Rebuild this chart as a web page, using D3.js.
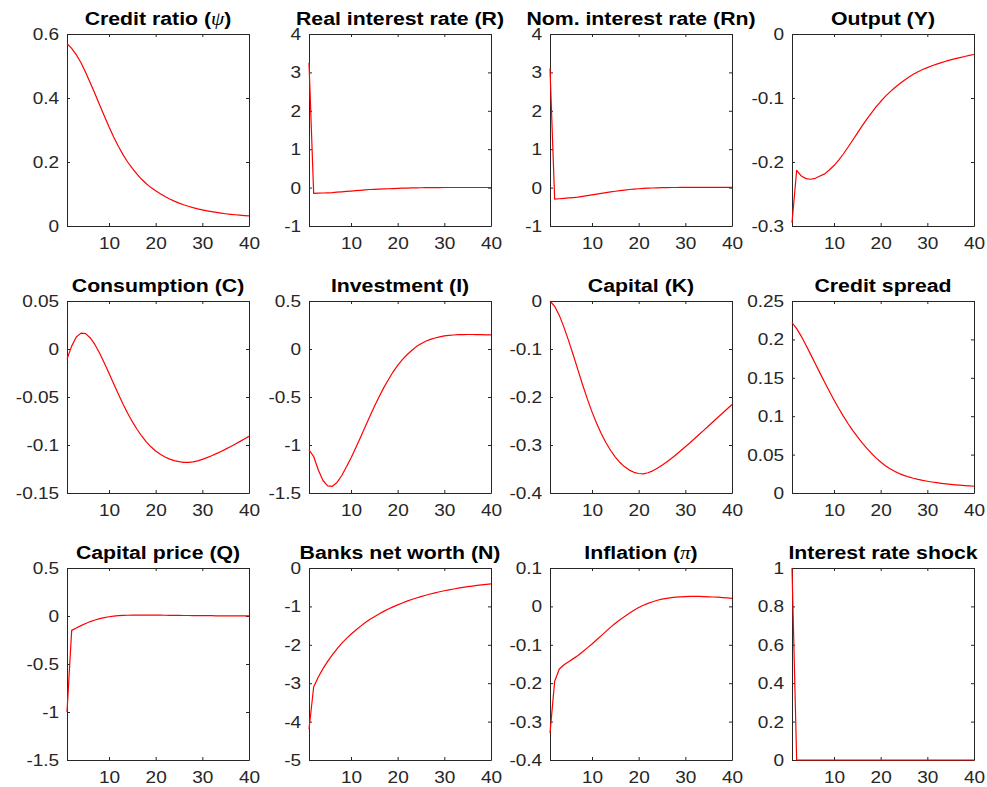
<!DOCTYPE html>
<html>
<head>
<meta charset="utf-8">
<script src="https://cdn.jsdelivr.net/npm/d3@7"></script>
<style>
  html, body { margin: 0; padding: 0; background: #ffffff; }
  svg { display: block; }
</style>
</head>
<body>
<svg id="chart" width="987" height="787"></svg>
<script>
// ---------------- DATA ----------------
const periods = d3.range(1, 41);
const xTicks = [10, 20, 30, 40];

const creditRatio = [0.57,0.555,0.535,0.51,0.48,0.447,0.413,0.378,0.344,0.31,0.278,0.249,0.223,0.2,0.18,0.162,0.146,0.132,0.12,0.11,0.1005,0.092,0.0844,0.0776,0.0716,0.0663,0.0616,0.0574,0.0537,0.0504,0.0474,0.0447,0.0423,0.0402,0.0383,0.0366,0.0351,0.0337,0.0325,0.0314];
const realRate = [3.25,-0.15,-0.145,-0.14,-0.135,-0.13,-0.12,-0.11,-0.1,-0.09,-0.08,-0.07,-0.06,-0.05,-0.045,-0.04,-0.035,-0.03,-0.025,-0.02,-0.016,-0.012,-0.009,-0.006,-0.004,-0.002,0,0.001,0.001,0.002,0.002,0.002,0.002,0.002,0.002,0.002,0.002,0.002,0.002,0.002];
const nomRate = [3.1,-0.3,-0.29,-0.28,-0.27,-0.26,-0.25,-0.23,-0.21,-0.19,-0.17,-0.15,-0.13,-0.11,-0.095,-0.08,-0.065,-0.05,-0.04,-0.03,-0.022,-0.015,-0.01,-0.005,-0.002,0,0.002,0.003,0.004,0.005,0.005,0.005,0.005,0.005,0.005,0.005,0.004,0.004,0.004,0.004];
const output = [-0.295,-0.213,-0.222,-0.226,-0.227,-0.2255,-0.222,-0.2185,-0.2125,-0.2055,-0.197,-0.1875,-0.177,-0.166,-0.155,-0.144,-0.1335,-0.1235,-0.114,-0.1055,-0.0975,-0.0905,-0.084,-0.078,-0.0725,-0.0675,-0.063,-0.059,-0.0555,-0.0525,-0.0497,-0.0471,-0.0447,-0.0425,-0.0405,-0.0386,-0.0368,-0.0351,-0.0335,-0.032];
const consumption = [-0.0105,0.003,0.0125,0.0165,0.016,0.0115,0.0045,-0.0045,-0.0145,-0.0252,-0.0362,-0.047,-0.0573,-0.0669,-0.0757,-0.0836,-0.0906,-0.0967,-0.1019,-0.1062,-0.1097,-0.1125,-0.1147,-0.1163,-0.1174,-0.118,-0.1181,-0.1176,-0.1165,-0.115,-0.1132,-0.1112,-0.109,-0.1067,-0.1043,-0.1018,-0.0992,-0.0965,-0.0938,-0.091];
const investment = [-1.05,-1.12,-1.26,-1.37,-1.425,-1.43,-1.39,-1.32,-1.23,-1.135,-1.03,-0.925,-0.815,-0.705,-0.6,-0.5,-0.405,-0.32,-0.24,-0.17,-0.11,-0.06,-0.015,0.025,0.055,0.08,0.1,0.115,0.127,0.136,0.142,0.146,0.149,0.15,0.151,0.151,0.15,0.149,0.148,0.147];
const capital = [0,-0.011,-0.03,-0.055,-0.083,-0.113,-0.144,-0.175,-0.204,-0.231,-0.255,-0.2765,-0.2953,-0.3115,-0.3252,-0.3365,-0.3455,-0.3523,-0.3569,-0.3594,-0.36,-0.3578,-0.3538,-0.3485,-0.3423,-0.3354,-0.328,-0.3202,-0.3121,-0.3038,-0.2952,-0.2865,-0.2777,-0.2689,-0.26,-0.2511,-0.2422,-0.2333,-0.2244,-0.2155];
const creditSpread = [0.222,0.214,0.204,0.1925,0.1805,0.1683,0.1561,0.1441,0.1324,0.1211,0.1103,0.1001,0.0905,0.0816,0.0734,0.0657,0.0585,0.0518,0.0457,0.0403,0.0356,0.0316,0.0282,0.0253,0.0229,0.0209,0.0192,0.0177,0.0164,0.0153,0.0143,0.0134,0.0126,0.0119,0.0113,0.0107,0.0102,0.0097,0.0092,0.0088];
const capitalPrice = [-1.0,-0.15,-0.125,-0.1,-0.078,-0.058,-0.042,-0.028,-0.017,-0.008,-0.002,0.003,0.006,0.008,0.009,0.01,0.01,0.01,0.01,0.009,0.009,0.008,0.007,0.007,0.006,0.005,0.005,0.004,0.004,0.003,0.003,0.003,0.002,0.002,0.002,0.002,0.001,0.001,0.001,0.001];
const netWorth = [-4.2,-3.1,-2.84,-2.62,-2.43,-2.26,-2.105,-1.965,-1.84,-1.725,-1.62,-1.52,-1.428,-1.344,-1.267,-1.196,-1.13,-1.069,-1.012,-0.959,-0.91,-0.864,-0.821,-0.781,-0.744,-0.709,-0.677,-0.647,-0.619,-0.593,-0.569,-0.546,-0.525,-0.505,-0.487,-0.47,-0.454,-0.439,-0.425,-0.412];
const inflation = [-0.33,-0.195,-0.163,-0.152,-0.144,-0.136,-0.128,-0.118,-0.108,-0.098,-0.087,-0.076,-0.065,-0.054,-0.044,-0.035,-0.026,-0.018,-0.01,-0.003,0.003,0.008,0.012,0.016,0.019,0.021,0.023,0.024,0.025,0.0255,0.026,0.026,0.026,0.0255,0.025,0.0245,0.024,0.023,0.022,0.021];
const shock = [1,0,0,0,0,0,0,0,0,0,0,0,0,0,0,0,0,0,0,0,0,0,0,0,0,0,0,0,0,0,0,0,0,0,0,0,0,0,0,0];

const titles = [
  ["Credit ratio (", "ψ", ")"],
  ["Real interest rate (R)"],
  ["Nom. interest rate (Rn)"],
  ["Output (Y)"],
  ["Consumption (C)"],
  ["Investment (I)"],
  ["Capital (K)"],
  ["Credit spread"],
  ["Capital price (Q)"],
  ["Banks net worth (N)"],
  ["Inflation (", "π", ")"],
  ["Interest rate shock"]
];
const seriesList = [creditRatio, realRate, nomRate, output, consumption, investment, capital, creditSpread, capitalPrice, netWorth, inflation, shock];
const yDomains = [[0,0.6],[-1,4],[-1,4],[-0.3,0],[-0.15,0.05],[-1.5,0.5],[-0.4,0],[0,0.25],[-1.5,0.5],[-5,0],[-0.4,0.1],[0,1]];
const yTickLists = [
  ["0","0.2","0.4","0.6"],
  ["-1","0","1","2","3","4"],
  ["-1","0","1","2","3","4"],
  ["-0.3","-0.2","-0.1","0"],
  ["-0.15","-0.1","-0.05","0","0.05"],
  ["-1.5","-1","-0.5","0","0.5"],
  ["-0.4","-0.3","-0.2","-0.1","0"],
  ["0","0.05","0.1","0.15","0.2","0.25"],
  ["-1.5","-1","-0.5","0","0.5"],
  ["-5","-4","-3","-2","-1","0"],
  ["-0.4","-0.3","-0.2","-0.1","0","0.1"],
  ["0","0.2","0.4","0.6","0.8","1"]
];

// ---------------- LAYOUT ----------------
const colLeft = [67, 309, 550, 792];
const rowTop = [34, 301, 568];
const W = 182, H = 192;
const axisColor = "#262626";
const fontFam = "'Liberation Sans', Arial, Helvetica, sans-serif";
const stretch = 1.12;

const svg = d3.select("#chart");
svg.append("rect").attr("width", 987).attr("height", 787).attr("fill", "#ffffff");

seriesList.forEach((vals, k) => {
  const r = Math.floor(k / 4), c = k % 4;
  const g = svg.append("g").attr("transform", `translate(${colLeft[c]},${rowTop[r]})`);
  const x = d3.scaleLinear().domain([1, 40]).range([0, W]);
  const y = d3.scaleLinear().domain(yDomains[k]).range([H, 0]);
  const yt = yTickLists[k].map(Number);

  g.append("rect").attr("width", W).attr("height", H).attr("fill", "#ffffff");

  // axes (inward ticks on all sides)
  const ax = [
    g.append("g").call(d3.axisLeft(y).tickValues(yt).tickFormat((d, i) => yTickLists[k][i]).tickSizeInner(-3).tickSizeOuter(0).tickPadding(7)),
    g.append("g").attr("transform", `translate(0,${H})`).call(d3.axisBottom(x).tickValues(xTicks).tickFormat(d3.format("d")).tickSizeInner(-3).tickSizeOuter(0).tickPadding(10.5)),
    g.append("g").attr("transform", `translate(${W},0)`).call(d3.axisRight(y).tickValues(yt).tickFormat("").tickSizeInner(-3).tickSizeOuter(0)),
    g.append("g").call(d3.axisTop(x).tickValues(xTicks).tickFormat("").tickSizeInner(-3).tickSizeOuter(0))
  ];
  ax.forEach(a => {
    a.select(".domain").attr("stroke", axisColor).attr("stroke-width", 1);
    a.selectAll(".tick line").attr("stroke", axisColor).attr("stroke-width", 1);
    a.selectAll(".tick text").attr("fill", axisColor).attr("font-family", fontFam).attr("font-size", 17);
  });
  ax[0].selectAll(".tick text").attr("transform", `scale(${stretch},1)`);
  ax[1].selectAll(".tick text").attr("transform", `scale(${stretch},1)`);

  // line
  const line = d3.line().x((d, i) => x(periods[i])).y(d => y(d));
  g.append("path").datum(vals)
    .attr("d", line)
    .attr("fill", "none")
    .attr("stroke", "#ff0000")
    .attr("stroke-width", 1.2)
    .attr("stroke-linejoin", "round");

  // title
  const t = g.append("text")
    .attr("transform", `translate(${W / 2},-9) scale(${stretch},1)`)
    .attr("text-anchor", "middle")
    .attr("font-family", fontFam)
    .attr("font-weight", "bold")
    .attr("font-size", 19)
    .attr("fill", "#000000");
  titles[k].forEach((part, i) => {
    const ts = t.append("tspan").text(part);
    if (i === 1) ts.attr("font-family", "'Liberation Serif', 'DejaVu Serif', serif").attr("font-style", "italic").attr("font-weight", "normal");
  });
});
</script>
</body>
</html>
